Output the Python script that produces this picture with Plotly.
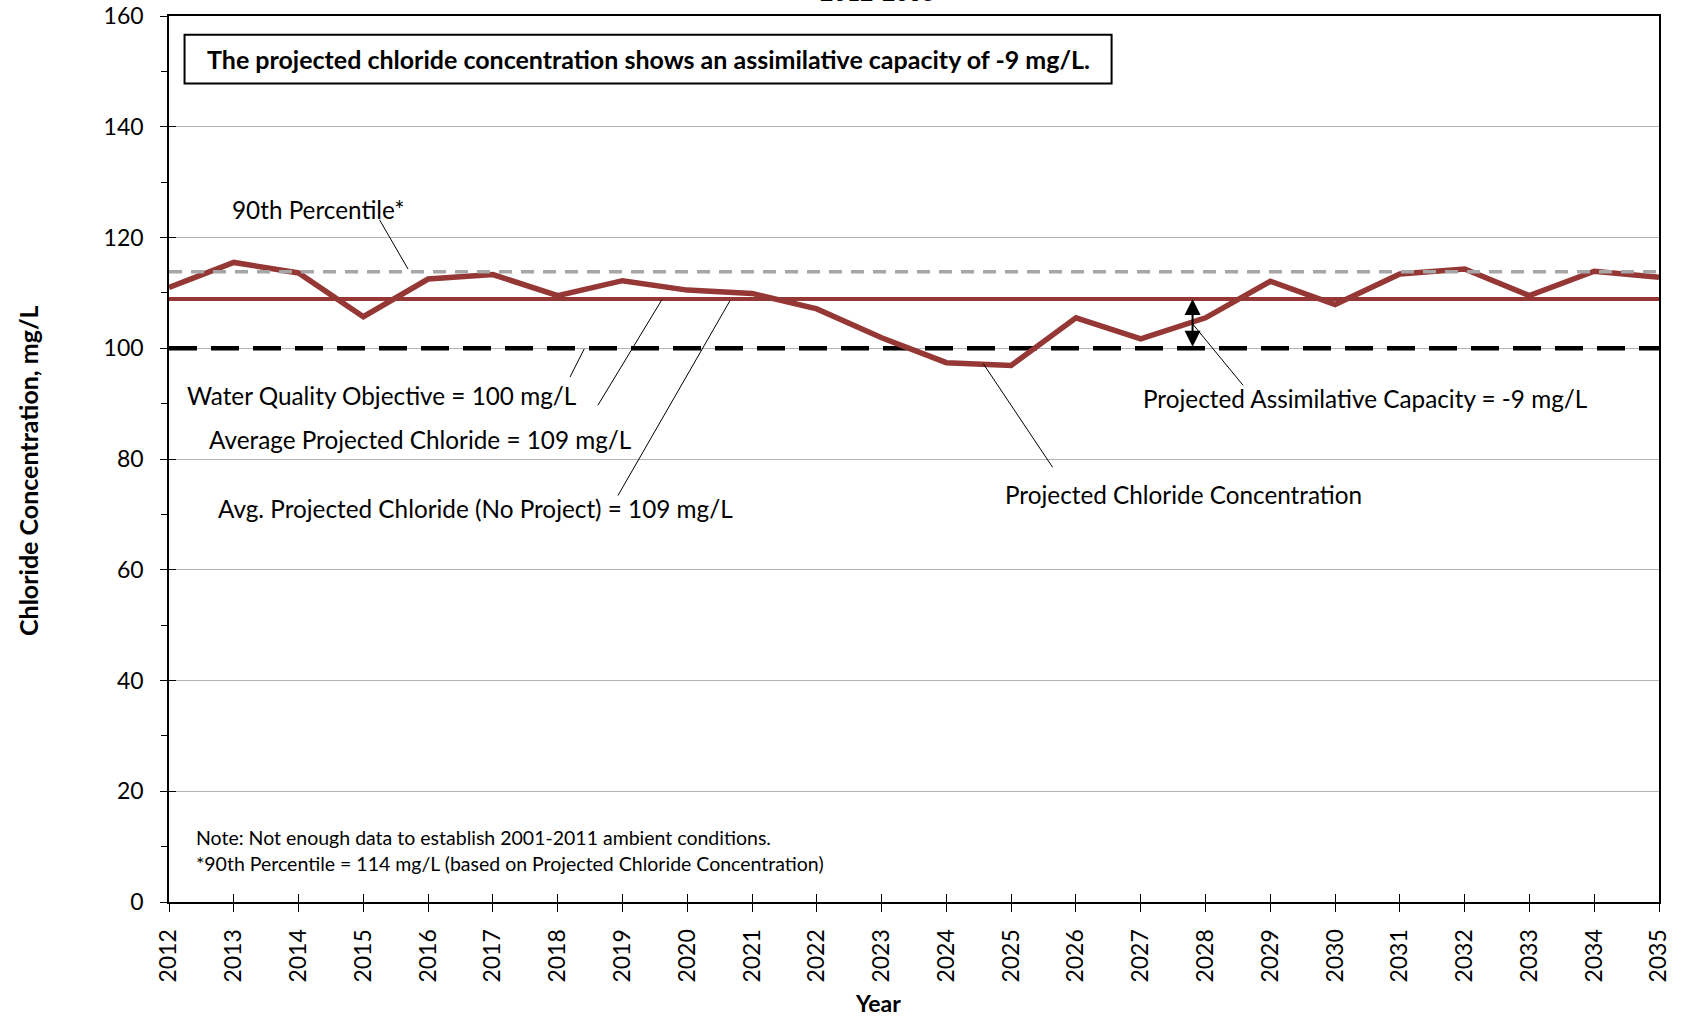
import plotly.graph_objects as go

# ---------------- data ----------------
years = list(range(2012, 2036))
projected_chloride = [111.0, 115.5, 113.6, 105.7, 112.5, 113.3, 109.5, 112.2, 110.5, 109.9,
                      107.1, 101.9, 97.4, 96.9, 105.5, 101.7, 105.5, 112.1, 107.9, 113.4,
                      114.3, 109.5, 113.9, 112.8]
avg_projected = 108.9
avg_no_project = 108.9
percentile_90 = 113.8
water_quality_objective = 100
assimilative_x = 2027.8

y_ticks = [0, 20, 40, 60, 80, 100, 120, 140, 160]

title_text = "2012-2035"
box_text = "The projected chloride concentration shows an assimilative capacity of -9 mg/L."
note_lines = ["Note: Not enough data to establish 2001-2011 ambient conditions.",
              "*90th Percentile = 114 mg/L (based on Projected Chloride Concentration)"]

RED = "#953735"
FONT = "Lato"
LABEL_SIZE = 24.3

fig = go.Figure()

# Water quality objective (black dashed)
fig.add_trace(go.Scatter(x=years, y=[water_quality_objective] * len(years), mode="lines",
                         line=dict(color="black", width=4.5, dash="28px,14px"),
                         hoverinfo="skip", showlegend=False))
# Average projected chloride (and no-project average)
fig.add_trace(go.Scatter(x=years, y=[avg_no_project] * len(years), mode="lines",
                         line=dict(color=RED, width=4), hoverinfo="skip", showlegend=False))
fig.add_trace(go.Scatter(x=years, y=[avg_projected] * len(years), mode="lines",
                         line=dict(color=RED, width=4), hoverinfo="skip", showlegend=False))
# Projected chloride concentration
fig.add_trace(go.Scatter(x=years, y=projected_chloride, mode="lines",
                         line=dict(color=RED, width=5.5), showlegend=False))
# 90th percentile (grey dashed)
fig.add_trace(go.Scatter(x=years, y=[percentile_90] * len(years), mode="lines",
                         line=dict(color="#A6A6A6", width=3.5, dash="13px,9px"),
                         hoverinfo="skip", showlegend=False))
# dummy trace for cross-tick overlay axes
fig.add_trace(go.Scatter(x=[years[0]], y=[0], xaxis="x2", yaxis="y2", mode="markers",
                         marker=dict(opacity=0), hoverinfo="skip", showlegend=False))

fig.update_layout(
    width=1683, height=1017,
    margin=dict(l=169, r=24, t=16, b=115, autoexpand=False),
    paper_bgcolor="white", plot_bgcolor="white",
    font=dict(family=FONT, color="black", size=22),
    xaxis=dict(range=[years[0], years[-1]], tickmode="array", tickvals=years,
               ticktext=[str(y) for y in years], tickangle=-90, automargin=False,
               ticks="outside", ticklen=8, tickcolor="black", tickwidth=1,
               showline=True, linecolor="black", linewidth=2, mirror=True,
               showgrid=False, zeroline=False, ticklabelstandoff=8,
               tickfont=dict(family=FONT, size=23)),
    yaxis=dict(range=[0, 160], tickmode="array", tickvals=y_ticks, automargin=False,
               ticks="outside", ticklen=7, tickcolor="black", tickwidth=1,
               minor=dict(dtick=10, ticks="outside", ticklen=6, tickcolor="black", showgrid=False),
               showline=True, linecolor="black", linewidth=1.5, mirror=True,
               showgrid=True, gridcolor="#B3B3B3", gridwidth=1, zeroline=False,
               ticklabelstandoff=12, tickfont=dict(family=FONT, size=23)),
    xaxis2=dict(overlaying="x", anchor="y2", range=[years[0], years[-1]], tickmode="array",
                tickvals=years, ticks="inside", ticklen=8, tickcolor="black", automargin=False,
                showticklabels=False, showgrid=False, showline=False, zeroline=False),
    yaxis2=dict(overlaying="y", anchor="x2", range=[0, 160], tickmode="array", automargin=False,
                tickvals=y_ticks, ticks="inside", ticklen=7, tickcolor="black",
                showticklabels=False, showgrid=False, showline=False, zeroline=False),
)

ann = []
# Title (partly cut off at top, as in the original)
ann.append(dict(text="<b>" + title_text + "</b>", xref="paper", yref="paper", x=0.4758, y=1.009,
                xanchor="center", yanchor="bottom", showarrow=False, font=dict(size=23)))
# axis titles
ann.append(dict(text="<b>Year</b>", xref="paper", yref="paper", x=0.4758, y=-0.114,
                xanchor="center", yanchor="middle", showarrow=False, font=dict(size=23)))
ann.append(dict(text="<b>Chloride Concentration, mg/L</b>", xref="paper", yref="paper",
                x=-0.0946, y=0.4865, xanchor="center", yanchor="middle", textangle=-90,
                showarrow=False, font=dict(size=25)))
# Box text
fig.add_shape(type="rect", x0=2012.24, x1=2026.55, y0=147.8, y1=156.6,
              line=dict(color="black", width=2), fillcolor="white", layer="above")
ann.append(dict(text="<b>" + box_text + "</b>", x=2019.40, y=152.2, xanchor="center",
                yanchor="middle", showarrow=False, font=dict(size=25)))

# Labels
labels = [
    ("90th Percentile*", 2012.94, 125.0),
    ("Water Quality Objective = 100 mg/L", 2012.24, 91.5),
    ("Average Projected Chloride = 109 mg/L", 2012.59, 83.5),
    ("Avg. Projected Chloride (No Project) = 109 mg/L", 2012.72, 71.0),
    ("Projected Assimilative Capacity = -9 mg/L", 2027.0, 90.9),
    ("Projected Chloride Concentration", 2024.87, 73.6),
]
for t, x, y in labels:
    ann.append(dict(text=t, x=x, y=y, xanchor="left", yanchor="middle", showarrow=False,
                    font=dict(size=LABEL_SIZE)))

# Leader lines
leaders = [
    (2015.25, 123.2, 2015.69, 114.3),
    (2018.19, 94.8, 2018.41, 99.9),
    (2018.62, 89.7, 2019.61, 108.8),
    (2018.93, 73.4, 2020.66, 108.6),
    (2027.80, 104.4, 2028.58, 93.3),
    (2024.57, 97.2, 2025.64, 78.5),
]
for x0, y0, x1, y1 in leaders:
    fig.add_shape(type="line", x0=x0, y0=y0, x1=x1, y1=y1, line=dict(color="black", width=1))

# double arrow (assimilative capacity)
ann.append(dict(x=assimilative_x, y=avg_projected, ax=assimilative_x, ay=water_quality_objective,
                xref="x", yref="y", axref="x", ayref="y", text="", showarrow=True,
                arrowhead=2, arrowside="end+start", arrowsize=1.6, arrowwidth=2, arrowcolor="black"))

# notes
ann.append(dict(text=note_lines[0], x=2012.39, y=11.7, xanchor="left", yanchor="middle",
                showarrow=False, font=dict(size=19.5)))
ann.append(dict(text=note_lines[1], x=2012.39, y=6.9, xanchor="left", yanchor="middle",
                showarrow=False, font=dict(size=19.5)))

fig.update_layout(annotations=ann)
fig.write_html("out.html", config={"displayModeBar": False},
               post_script="document.body.style.margin='0';document.body.style.overflow='hidden';")
